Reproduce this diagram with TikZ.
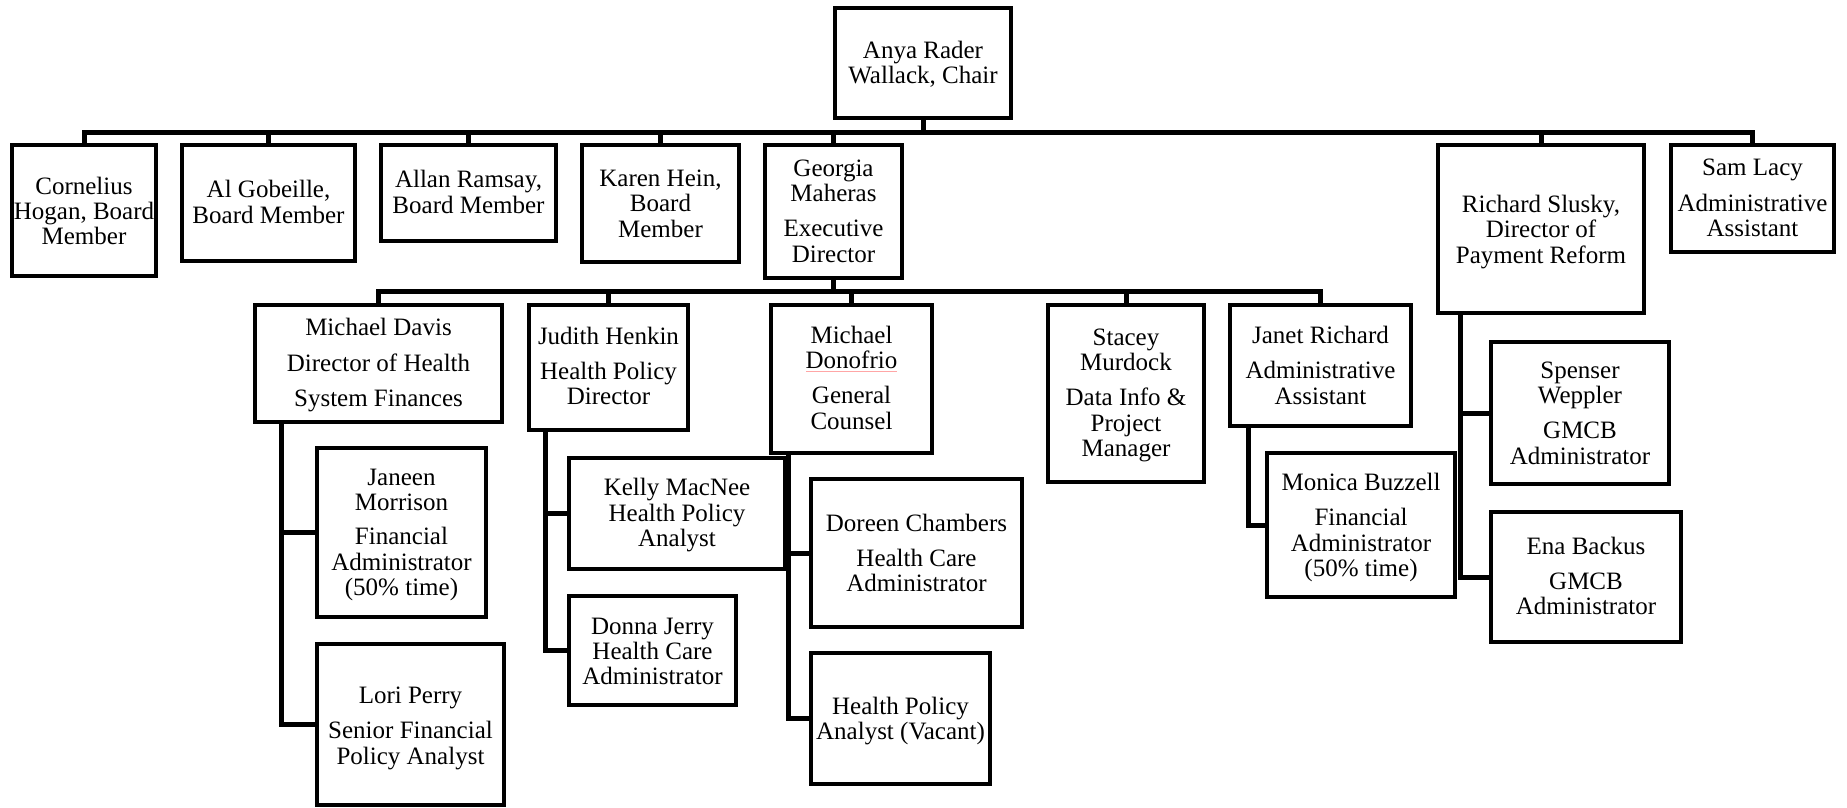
\documentclass[tikz,border=0pt]{standalone}
\usepackage{fontspec}
\setmainfont{Liberation Serif}
\begin{document}
\begin{tikzpicture}[x=1pt,y=-1pt,
  box/.style={draw, line width=4.5pt, inner sep=0pt, rectangle},
  conn/.style={line width=5pt},
  txt/.style={align=center, inner sep=0pt, anchor=base, font=\fontsize{25}{25.3}\selectfont}]
\useasboundingbox (0,0) rectangle (1847,808);
\fill[white] (0,0) rectangle (1847,808);
\clip (0,0) rectangle (1847,808);
% boxes
\node[box, minimum width=176pt, minimum height=110pt] (anya) at (923,63) {};
\node[box, minimum width=144pt, minimum height=131pt] (cornelius) at (84,210.5) {};
\node[box, minimum width=173pt, minimum height=116pt] (gobeille) at (268.5,203) {};
\node[box, minimum width=175pt, minimum height=96pt] (ramsay) at (468.5,193) {};
\node[box, minimum width=157pt, minimum height=117pt] (hein) at (660.5,203.5) {};
\node[box, minimum width=137pt, minimum height=133pt] (maheras) at (833.5,211.5) {};
\node[box, minimum width=206pt, minimum height=168pt] (slusky) at (1541,229) {};
\node[box, minimum width=163pt, minimum height=107pt] (lacy) at (1752.5,198.5) {};
\node[box, minimum width=247pt, minimum height=117pt] (davis) at (378.5,363.5) {};
\node[box, minimum width=159pt, minimum height=125pt] (henkin) at (608.5,367.5) {};
\node[box, minimum width=161pt, minimum height=148pt] (donofrio) at (851.5,379) {};
\node[box, minimum width=156pt, minimum height=177pt] (murdock) at (1126,393.5) {};
\node[box, minimum width=181pt, minimum height=121pt] (janet) at (1320.5,365.5) {};
\node[box, minimum width=169pt, minimum height=169pt] (morrison) at (401.5,532.5) {};
\node[box, minimum width=187pt, minimum height=161pt] (perry) at (410.5,724.5) {};
\node[box, minimum width=216pt, minimum height=111pt] (macnee) at (677,513.5) {};
\node[box, minimum width=167pt, minimum height=109pt] (jerry) at (652.5,650.5) {};
\node[box, minimum width=211pt, minimum height=148pt] (chambers) at (916.5,553) {};
\node[box, minimum width=179pt, minimum height=131pt] (vacant) at (900.5,718.5) {};
\node[box, minimum width=188pt, minimum height=144pt] (buzzell) at (1361,525) {};
\node[box, minimum width=178pt, minimum height=142pt] (weppler) at (1580,413) {};
\node[box, minimum width=190pt, minimum height=130pt] (backus) at (1586,577) {};
% helper coordinates
\coordinate (bus1) at (0,132);
\coordinate (bus2) at (0,291.7);
\coordinate (dv) at (281,0);
\coordinate (hv) at (545.4,0);
\coordinate (ov) at (788,0);
\coordinate (jv) at (1248.7,0);
\coordinate (sv) at (1460,0);
% level 1
\draw[conn] (anya.south) -- (anya.south |- bus1);
\draw[conn] (cornelius.north) -- (cornelius.north |- bus1) -- (lacy.north |- bus1) -- (lacy.north);
\foreach \n in {gobeille,ramsay,hein,maheras,slusky}
  \draw[conn] (\n.north) -- (\n.north |- bus1);
% level 2
\draw[conn] (maheras.south) -- (maheras.south |- bus2);
\draw[conn] (davis.north) -- (davis.north |- bus2) -- (janet.north |- bus2) -- (janet.north);
\foreach \n in {henkin,donofrio,murdock}
  \draw[conn] (\n.north) -- (\n.north |- bus2);
% trunks
\draw[conn] (davis.south -| dv) |- (perry.west);
\draw[conn] (dv |- morrison.west) -- (morrison.west);
\draw[conn] (henkin.south -| hv) |- (jerry.west);
\draw[conn] (hv |- macnee.west) -- (macnee.west);
\draw[conn] (donofrio.south -| ov) |- (vacant.west);
\draw[conn] (ov |- chambers.west) -- (chambers.west);
\draw[conn] (janet.south -| jv) |- (buzzell.west);
\draw[conn] (slusky.south -| sv) |- (backus.west);
\draw[conn] (sv |- weppler.west) -- (weppler.west);
% texts (anchored at the baseline of the last line)
\node[txt] (tanya) at (923,84) {Anya Rader\\Wallack, Chair};
\node[txt] (tcornelius) at (84,244.7) {Cornelius\\Hogan, Board\\Member};
\node[txt] (tgobeille) at (268.5,223) {Al Gobeille,\\Board Member};
\node[txt] (tramsay) at (468.5,213) {Allan Ramsay,\\Board Member};
\node[txt] (thein) at (660.5,237) {Karen Hein,\\Board\\Member};
\node[txt] (tmaheras) at (833.5,262) {Georgia\\Maheras\\[10pt]Executive\\Director};
\node[txt] (tslusky) at (1541,263) {Richard Slusky,\\Director of\\Payment Reform};
\node[txt] (tlacy) at (1752.5,236.3) {Sam Lacy\\[10pt]Administrative\\Assistant};
\node[txt] (tdavis) at (378.5,406.3) {Michael Davis\\[10pt]Director of Health\\[10pt]System Finances};
\node[txt] (thenkin) at (608.5,404.7) {Judith Henkin\\[10pt]Health Policy\\Director};
\node[txt] (tdonofrio) at (851.5,429) {Michael\\Donofrio\\[10pt]General\\Counsel};
\node[txt] (tmurdock) at (1126,456.3) {Stacey\\Murdock\\[10pt]Data Info \&\\Project\\Manager};
\node[txt] (tjanet) at (1320.5,404) {Janet Richard\\[10pt]Administrative\\Assistant};
\node[txt] (tmorrison) at (401.5,595.3) {Janeen\\Morrison\\[9pt]Financial\\Administrator\\(50\% time)};
\node[txt] (tperry) at (410.5,764) {Lori Perry\\[10pt]Senior Financial\\Policy Analyst};
\node[txt] (tmacnee) at (677,546.3) {Kelly MacNee\\Health Policy\\Analyst};
\node[txt] (tjerry) at (652.5,684.7) {Donna Jerry\\Health Care\\Administrator};
\node[txt] (tchambers) at (916.5,591.3) {Doreen Chambers\\[9pt]Health Care\\Administrator};
\node[txt] (tvacant) at (900.5,739.7) {Health Policy\\Analyst (Vacant)};
\node[txt] (tbuzzell) at (1361,576.3) {Monica Buzzell\\[10pt]Financial\\Administrator\\(50\% time)};
\node[txt] (tweppler) at (1580,464) {Spenser\\Weppler\\[10pt]GMCB\\Administrator};
\node[txt] (tbackus) at (1586,614.7) {Ena Backus\\[10pt]GMCB\\Administrator};
% spell-check underline
\draw[red!35, line width=1pt] (806,371) -- (897,371);
\end{tikzpicture}
\end{document}
